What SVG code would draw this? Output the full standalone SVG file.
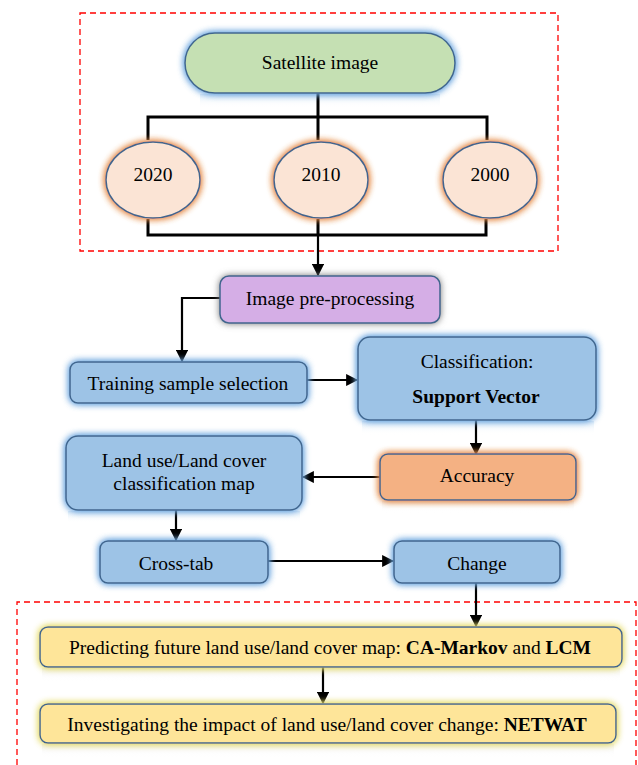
<svg xmlns="http://www.w3.org/2000/svg" width="638" height="765" viewBox="0 0 638 765">
<defs>
<style>
text{font-family:"Liberation Serif","Times New Roman",serif;font-size:19.5px;fill:#000;text-anchor:middle;dominant-baseline:central}
.b{font-weight:bold}
.frame{fill:none;stroke:#ff0000;stroke-width:1.3;stroke-dasharray:6,4}
.line{fill:none;stroke:#000;stroke-width:3}
.arr{fill:none;stroke:#000;stroke-width:2.2;marker-end:url(#ah)}
.box{stroke:#41668e;stroke-width:1.5}
</style>
<marker id="ah" viewBox="0 0 10 10" refX="9" refY="5" markerWidth="5.5" markerHeight="5.5" orient="auto" markerUnits="strokeWidth">
<path d="M0,0 L10,5 L0,10 z" fill="#000"/>
</marker>
<filter id="gBlue" x="-20%" y="-40%" width="140%" height="180%">
<feGaussianBlur in="SourceAlpha" stdDeviation="3.5" result="b"/>
<feFlood flood-color="#6fa8e0" result="c"/>
<feComposite in="c" in2="b" operator="in" result="g"/>
<feMerge><feMergeNode in="g"/><feMergeNode in="g"/><feMergeNode in="SourceGraphic"/></feMerge>
</filter>
<filter id="gOrange" x="-30%" y="-30%" width="160%" height="160%">
<feGaussianBlur in="SourceAlpha" stdDeviation="3.5" result="b"/>
<feFlood flood-color="#e58a46" result="c"/>
<feComposite in="c" in2="b" operator="in" result="g"/>
<feMerge><feMergeNode in="g"/><feMergeNode in="g"/><feMergeNode in="SourceGraphic"/></feMerge>
</filter>
<filter id="gYellow" x="-10%" y="-40%" width="120%" height="180%">
<feGaussianBlur in="SourceAlpha" stdDeviation="3.5" result="b"/>
<feFlood flood-color="#e6dc6a" result="c"/>
<feComposite in="c" in2="b" operator="in" result="g"/>
<feMerge><feMergeNode in="g"/><feMergeNode in="g"/><feMergeNode in="SourceGraphic"/></feMerge>
</filter>
<filter id="gGray" x="-20%" y="-40%" width="140%" height="180%">
<feGaussianBlur in="SourceAlpha" stdDeviation="3.5" result="b"/>
<feFlood flood-color="#777777" result="c"/>
<feComposite in="c" in2="b" operator="in" result="g"/>
<feMerge><feMergeNode in="g"/><feMergeNode in="SourceGraphic"/></feMerge>
</filter>
<linearGradient id="fadeB" x1="0" y1="0" x2="0" y2="1">
<stop offset="0" stop-color="#c9dff3" stop-opacity="0.6"/>
<stop offset="1" stop-color="#ffffff" stop-opacity="0"/>
</linearGradient>
<linearGradient id="fadeY" x1="0" y1="0" x2="0" y2="1">
<stop offset="0" stop-color="#eeeeee" stop-opacity="0.8"/>
<stop offset="1" stop-color="#ffffff" stop-opacity="0"/>
</linearGradient>
</defs>
<rect width="638" height="765" fill="#fff"/>

<rect class="frame" x="80" y="13" width="478" height="238"/>
<path class="frame" d="M17,765 V602 H636 V765"/>

<g id="reflections">
<rect x="200" y="94" width="240" height="14" fill="url(#fadeB)"/>
<rect x="362" y="421" width="232" height="14" fill="url(#fadeB)"/>
<rect x="68" y="511" width="232" height="12" fill="url(#fadeB)"/>
<rect x="382" y="501" width="192" height="12" fill="url(#fadeY)"/>
<rect x="42" y="668" width="578" height="14" fill="url(#fadeY)"/>
<rect x="42" y="744" width="572" height="14" fill="url(#fadeY)"/>
</g>

<g id="connectors">
<path class="line" d="M318,93 V140 M148,140 V117 H487 V140"/>
<path class="line" d="M148,219 V235 H486 V219 M318,219 V235"/>
<path class="arr" d="M318,235 V275"/>
<path class="arr" d="M220,298 H182 V361"/>
<path class="arr" d="M307,380 H357"/>
<path class="arr" d="M476,420 V454"/>
<path class="arr" d="M380,477 H303"/>
<path class="arr" d="M176,510 V540"/>
<path class="arr" d="M268,561 H393"/>
<path class="arr" d="M476,583 V626"/>
<path class="arr" d="M323,667 V703"/>
</g>

<g id="satellite">
<rect class="box" x="185" y="33" width="270" height="60" rx="30" fill="#c5e0b3" filter="url(#gBlue)"/>
<text x="320" y="62">Satellite image</text>
</g>
<g id="y2020">
<ellipse class="box" cx="153" cy="180" rx="47" ry="38" fill="#fbe4d5" filter="url(#gOrange)"/>
<text x="153" y="174">2020</text>
</g>
<g id="y2010">
<ellipse class="box" cx="321" cy="180" rx="47" ry="38" fill="#fbe4d5" filter="url(#gOrange)"/>
<text x="321" y="174">2010</text>
</g>
<g id="y2000">
<ellipse class="box" cx="490" cy="180" rx="47" ry="38" fill="#fbe4d5" filter="url(#gOrange)"/>
<text x="490" y="174">2000</text>
</g>
<g id="preprocessing">
<rect class="box" x="220" y="276" width="220" height="47" rx="9" fill="#d5aee6" filter="url(#gGray)"/>
<text x="330" y="298">Image pre-processing</text>
</g>
<g id="training">
<rect class="box" x="70" y="362" width="237" height="41" rx="8" fill="#9dc3e6" filter="url(#gBlue)"/>
<text x="188" y="383">Training sample selection</text>
</g>
<g id="classification">
<rect class="box" x="358" y="337" width="238" height="83" rx="12" fill="#9dc3e6" filter="url(#gBlue)"/>
<text x="477" y="361">Classification:</text>
<text class="b" x="476" y="396">Support Vector</text>
</g>
<g id="accuracy">
<rect class="box" x="380" y="454" width="196" height="46" rx="8" fill="#f4b183" filter="url(#gOrange)"/>
<text x="477" y="475">Accuracy</text>
</g>
<g id="lulcmap">
<rect class="box" x="66" y="436" width="236" height="74" rx="12" fill="#9dc3e6" filter="url(#gBlue)"/>
<text x="184" y="460">Land use/Land cover</text>
<text x="184" y="483">classification map</text>
</g>
<g id="crosstab">
<rect class="box" x="100" y="541" width="168" height="42" rx="8" fill="#9dc3e6" filter="url(#gBlue)"/>
<text x="176" y="563">Cross-tab</text>
</g>
<g id="change">
<rect class="box" x="394" y="541" width="166" height="42" rx="8" fill="#9dc3e6" filter="url(#gBlue)"/>
<text x="477" y="563">Change</text>
</g>
<g id="predicting">
<rect class="box" x="40" y="627" width="582" height="40" rx="8" fill="#fee599" filter="url(#gYellow)"/>
<text x="330" y="647">Predicting future land use/land cover map: <tspan class="b">CA-Markov</tspan> and <tspan class="b">LCM</tspan></text>
</g>
<g id="investigating">
<rect class="box" x="40" y="704" width="576" height="39" rx="8" fill="#fee599" filter="url(#gYellow)"/>
<text x="327" y="724">Investigating the impact of land use/land cover change: <tspan class="b">NETWAT</tspan></text>
</g>
</svg>
